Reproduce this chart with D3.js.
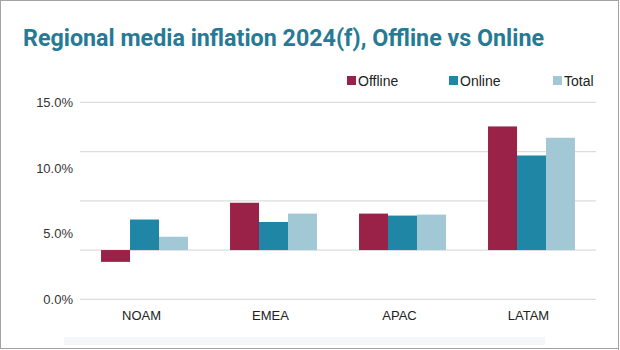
<!DOCTYPE html>
<html>
<head>
<meta charset="utf-8">
<script src="https://cdn.jsdelivr.net/npm/d3@7"></script>
<style>
  html, body { margin: 0; padding: 0; background: #fff; }
  svg { display: block; }
</style>
</head>
<body>
<div id="chart"></div>
<script>
'use strict';

// chart data
const regions = ["NOAM", "EMEA", "APAC", "LATAM"];
const series = ["Offline", "Online", "Total"];
const offline = [-1.2, 4.8, 3.7, 12.55];
const online = [3.1, 2.85, 3.5, 9.6];
const total = [1.35, 3.7, 3.6, 11.4];
const gridValues = [-5, 0, 5, 10, 15];
const tickLabels = ["0.0%", "5.0%", "10.0%", "15.0%"];

const colors = ["#9a2148", "#1f87a5", "#a3c8d5"];
const values = [offline, online, total];

const width = 620, height = 350;
const plot = { left: 80, right: 596, top: 102.3, bottom: 299.3 };

const svg = d3.select("#chart").append("svg")
    .attr("width", width)
    .attr("height", height)
    .style("font-family", "'Liberation Sans', Arial, sans-serif");

// frame
svg.append("rect")
    .attr("x", 0.5).attr("y", 0.5)
    .attr("width", width - 2).attr("height", height - 2)
    .attr("fill", "#fff")
    .attr("stroke", "#a3a3a3");
svg.append("line")
    .attr("x1", width - 1.5).attr("x2", width - 1.5)
    .attr("y1", 0).attr("y2", height)
    .attr("stroke", "#a3a3a3");

// faint band at the bottom
svg.append("rect")
    .attr("x", 64).attr("y", 337)
    .attr("width", 481).attr("height", 8)
    .attr("fill", "#f3f7fa");

// title
svg.append("text")
    .attr("x", 23)
    .attr("y", 46)
    .attr("fill", "#267a95")
    .attr("textLength", 521)
    .attr("lengthAdjust", "spacingAndGlyphs")
    .style("font-family", "Roboto, sans-serif")
    .style("font-weight", "bold")
    .style("font-size", "23px")
    .text("Regional media inflation 2024(f), Offline vs Online");

// scales
const x0 = d3.scaleBand()
    .domain(regions)
    .range([plot.left, plot.right])
    .paddingInner(0.326)
    .paddingOuter(0.163);

const x1 = d3.scaleBand()
    .domain(series)
    .range([0, x0.bandwidth()]);

const y = d3.scaleLinear()
    .domain([-5, 15])
    .range([plot.bottom, plot.top]);

// the value labels sit on their own spacing
const yLab = d3.scaleLinear()
    .domain([0, 15])
    .range([plot.bottom, plot.top]);

// gridlines
svg.append("g")
    .selectAll("line")
    .data(gridValues)
    .join("line")
    .attr("x1", plot.left)
    .attr("x2", plot.right)
    .attr("y1", d => y(d))
    .attr("y2", d => y(d))
    .attr("stroke", "#dcdcdc")
    .attr("stroke-width", 1.2);

// y labels
svg.append("g")
    .selectAll("text")
    .data(tickLabels)
    .join("text")
    .attr("x", 73)
    .attr("y", (d, i) => yLab(i * 5))
    .attr("dy", "0.35em")
    .attr("text-anchor", "end")
    .attr("fill", "#333")
    .style("font-size", "13px")
    .text(d => d);

// bars
const groups = svg.append("g")
    .selectAll("g")
    .data(regions)
    .join("g")
    .attr("transform", d => `translate(${x0(d)},0)`);

groups.selectAll("rect")
    .data((d, i) => series.map((s, j) => ({ s, j, v: values[j][i] })))
    .join("rect")
    .attr("x", d => x1(d.s))
    .attr("width", x1.bandwidth())
    .attr("y", d => y(Math.max(0, d.v)))
    .attr("height", d => Math.abs(y(d.v) - y(0)))
    .attr("fill", d => colors[d.j]);

// x labels
svg.append("g")
    .selectAll("text")
    .data(regions)
    .join("text")
    .attr("x", d => x0(d) + x0.bandwidth() / 2 - 3)
    .attr("y", 315)
    .attr("dy", "0.35em")
    .attr("text-anchor", "middle")
    .attr("fill", "#222")
    .style("font-size", "13px")
    .text(d => d);

// legend
const legendX = [347, 449, 553];
const legend = svg.append("g")
    .selectAll("g")
    .data(series)
    .join("g")
    .attr("transform", (d, i) => `translate(${legendX[i]},76)`);

legend.append("rect")
    .attr("width", 9)
    .attr("height", 9)
    .attr("fill", (d, i) => colors[i]);

legend.append("text")
    .attr("x", 11)
    .attr("y", 5)
    .attr("dy", "0.35em")
    .attr("fill", "#222")
    .style("font-size", "14px")
    .text(d => d);
</script>
</body>
</html>
